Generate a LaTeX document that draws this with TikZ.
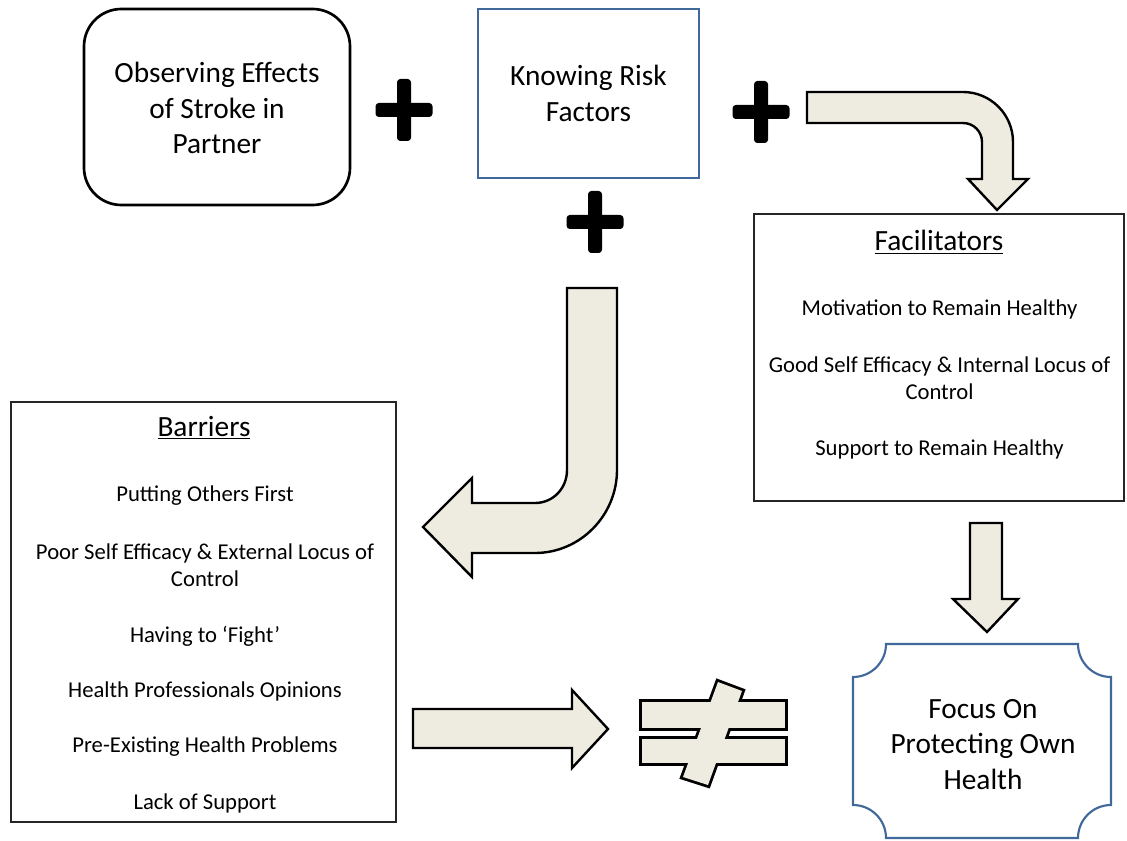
\documentclass[tikz,border=0pt]{standalone}
\usepackage{fontspec}
\setmainfont{Carlito}
\definecolor{arrowfill}{HTML}{EEECE1}
\definecolor{boxblue}{HTML}{41689A}
\newcommand{\bigtxt}{\fontsize{22}{26.8}\selectfont}
\newcommand{\smalltxt}{\fontsize{17}{20.2}\selectfont}
\newcommand{\titletxt}{\fontsize{22}{26}\selectfont}
\tikzset{
  blockarrow/.style={draw=black, fill=arrowfill, line width=1.8pt, line join=miter},
  plussign/.style={fill=black, rounded corners=2.5pt},
  bigtext/.style={align=center, font=\bigtxt, inner sep=0pt},
  smalltext/.style={align=center, font=\smalltxt, inner sep=0pt},
  titletext/.style={align=center, font=\titletxt, inner sep=0pt},
  listbox/.style={draw=black!85, line width=0.8pt, inner sep=0pt},
}
\begin{document}
\begin{tikzpicture}[x=0.75pt,y=-0.75pt]
\useasboundingbox (0,0) rectangle (1127,841);

% top boxes
\node[draw=black, line width=2pt, rounded corners=28pt, minimum width=199.5pt, minimum height=147pt, inner sep=0pt] (obs) at (217,107) {};
\node[bigtext] (obst) at (217,108) {Observing Effects\\of Stroke in\\Partner};
\node[draw=boxblue, line width=1.5pt, minimum width=165.75pt, minimum height=126.75pt, inner sep=0pt] (know) at (588.5,93.5) {};
\node[bigtext] (knowt) at (588.5,93.5) {Knowing Risk\\Factors};

% plus signs
\foreach \cx/\cy in {404/110, 761/112, 595/222} {
  \fill[plussign] (\cx-28.5,\cy-7) rectangle (\cx+28.5,\cy+7);
  \fill[plussign] (\cx-7,\cy-31) rectangle (\cx+7,\cy+31);
}

% facilitators
\node[listbox, minimum width=277.5pt, minimum height=215.25pt] (fac) at (939,357.5) {};
\node[titletext] (fact) at (939,242) {\underline{Facilitators}};
\node[smalltext] (f1) at (939.5,309) {Motivation to Remain Healthy};
\node[smalltext] (f2) at (939.5,378) {Good Self Efficacy \& Internal Locus of\\Control};
\node[smalltext] (f3) at (939.5,449) {Support to Remain Healthy};

% barriers
\node[listbox, minimum width=288.75pt, minimum height=315pt] (bar) at (203.5,612) {};
\node[titletext] (bart) at (204,428) {\underline{Barriers}};
\node[smalltext] (b1) at (205,496) {Putting Others First};
\node[smalltext] (b2) at (205,565) {Poor Self Efficacy \& External Locus of\\Control};
\node[smalltext] (b3) at (205,636) {Having to ‘Fight’};
\node[smalltext] (b4) at (205,691) {Health Professionals Opinions};
\node[smalltext] (b5) at (205,747) {Pre-Existing Health Problems};
\node[smalltext] (b6) at (205,803) {Lack of Support};

% focus plaque
\draw[draw=boxblue, line width=1.6pt, fill=white]
  (886,644) -- (1078,644)
  .. controls (1078,662.2) and (1092.8,677) .. (1111,677)
  -- (1111,805)
  .. controls (1092.8,805) and (1078,819.8) .. (1078,838)
  -- (886,838)
  .. controls (886,819.8) and (871.2,805) .. (853,805)
  -- (853,677)
  .. controls (871.2,677) and (886,662.2) .. (886,644) -- cycle;
\node[bigtext] (focus) at (983,744.5) {Focus On\\Protecting Own\\Health};

% bent arrow top right
\draw[blockarrow] (807,92) -- (963,92)
  .. controls (990.6,92) and (1013,114.4) .. (1013,142)
  -- (1013,179) -- (1028,179) -- (997,210) -- (968,179) -- (982,179) -- (982,142)
  .. controls (982,131.5) and (973.5,123) .. (963,123)
  -- (807,123) -- cycle;

% big bent arrow
\draw[blockarrow] (567,288) -- (617,288) -- (617,470)
  .. controls (617,515.3) and (580.3,553) .. (535,553)
  -- (472,553) -- (472,577) -- (423,527) -- (472,478) -- (472,503) -- (535,503)
  .. controls (553.2,503) and (567,488.2) .. (567,470) -- cycle;

% right arrow
\draw[blockarrow] (413,709) -- (572,709) -- (572,690) -- (608,729) -- (572,768) -- (572,748) -- (413,748) -- cycle;

% down arrow
\draw[blockarrow] (970,523) -- (1002,523) -- (1002,599) -- (1018,599) -- (987,632) -- (953,599) -- (970,599) -- cycle;

% not equal sign
\begin{scope}[line join=miter]
\draw[line width=4.2pt] (642,702) rectangle (785,728);
\draw[line width=4.2pt] (642,739) rectangle (785,763);
\draw[line width=4.2pt] (718,682) -- (742,691) -- (708,785) -- (683,777) -- cycle;
\fill[arrowfill] (642,702) rectangle (785,728);
\fill[arrowfill] (642,739) rectangle (785,763);
\fill[arrowfill] (718,682) -- (742,691) -- (708,785) -- (683,777) -- cycle;
\end{scope}
\end{tikzpicture}
\end{document}
